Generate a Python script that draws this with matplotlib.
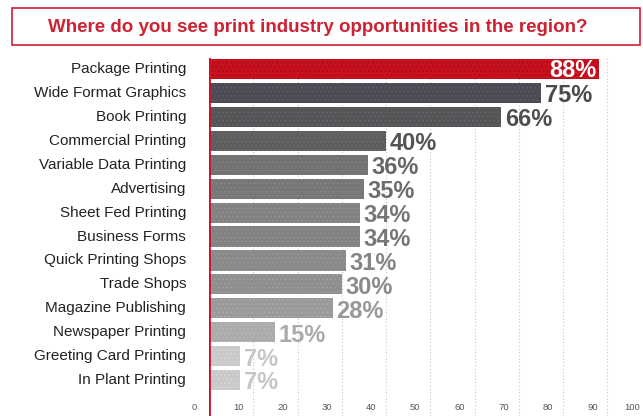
import matplotlib.pyplot as plt
from matplotlib.patches import Rectangle
from matplotlib.transforms import ScaledTranslation

plt.rcParams['font.family'] = ['Liberation Sans', 'DejaVu Sans']
plt.rcParams['hatch.linewidth'] = 0.6

categories = ['Package Printing', 'Wide Format Graphics', 'Book Printing', 'Commercial Printing',
              'Variable Data Printing', 'Advertising', 'Sheet Fed Printing', 'Business Forms',
              'Quick Printing Shops', 'Trade Shops', 'Magazine Publishing', 'Newspaper Printing',
              'Greeting Card Printing', 'In Plant Printing']
values = [88, 75, 66, 40, 36, 35, 34, 34, 31, 30, 28, 15, 7, 7]
bar_colors = ['#c8101e', '#4b4b55', '#555558', '#5e5e5e', '#727272', '#777777', '#828282',
              '#828282', '#8a8a8a', '#8f8f8f', '#9a9a9a', '#ababab', '#c9c9c9', '#c9c9c9']
dot_colors = ['#a00a16', '#5c5c68', '#66666a', '#6e6e6e', '#828282', '#878787', '#929292',
              '#929292', '#9a9a9a', '#9f9f9f', '#aaaaaa', '#bbbbbb', '#d8d8d8', '#d8d8d8']
text_colors = ['white', '#4a4a4a', '#4e4e4e', '#555555', '#666666', '#6c6c6c', '#777777',
               '#777777', '#858585', '#8a8a8a', '#989898', '#aaaaaa', '#c6c6c6', '#c6c6c6']
tick_vals = [0, 10, 20, 30, 40, 50, 60, 70, 80, 90, 100]

fig = plt.figure(figsize=(6.43, 4.16), dpi=100)
W, H = 643, 416

# title box
fig.patches.append(Rectangle((12 / W, 1 - 45 / H), 628 / W, 37 / H, transform=fig.transFigure,
                             facecolor='white', edgecolor='#d02030', lw=1.2))
fig.text(318 / W, 1 - 27 / H, 'Where do you see print industry opportunities in the region?',
         ha='center', va='center', color='#cc2233', fontsize=13.5, fontweight='bold')

ax = fig.add_axes([209 / W, 0, 425 / W, 1 - 58 / H])
ax.set_xlim(0, 96)
ax.set_ylim(14.5, -0.46)

pos = list(range(len(categories)))
bars = ax.barh(pos, values, height=0.84, color=bar_colors, edgecolor=dot_colors, lw=0,
               hatch='....', zorder=2)

for v in tick_vals[1:10]:
    ax.axvline(v, color='#c8c8b0', lw=0.8, ls=(0, (1, 2)), zorder=1)

for s in ax.spines.values():
    s.set_visible(False)
ax.axvline(0, color='#d01020', lw=2, zorder=3)
ax.set_xticks([])
ax.set_yticks([])

for i, (v, c) in enumerate(zip(values, text_colors)):
    if i == 0:
        ax.text(v - 0.5, i + 0.05, f'{v}%', ha='right', va='center', color=c,
                fontsize=17, fontweight='bold', zorder=4)
    else:
        ax.text(v + 0.8, i + 0.12, f'{v}%', ha='left', va='center', color=c,
                fontsize=17, fontweight='bold', zorder=4)

lab_off = ScaledTranslation(-23 / 100, 0, fig.dpi_scale_trans)
for i, name in enumerate(categories):
    ax.text(0, i, name, ha='right', va='center', fontsize=11, color='#222222',
            transform=ax.transData + lab_off, clip_on=False)

tick_off = ScaledTranslation(-15 / 100, 0, fig.dpi_scale_trans)
last_off = ScaledTranslation(-12 / 100, 0, fig.dpi_scale_trans)
for v in tick_vals:
    if v == 100:
        ax.text(v, 14.15, str(v), ha='right', va='center', fontsize=6.8, color='#555555',
                transform=ax.transData + last_off, clip_on=False)
    else:
        ax.text(v, 14.15, str(v), ha='center', va='center', fontsize=6.8, color='#555555',
                transform=ax.transData + tick_off, clip_on=False)

fig.savefig('out.png', dpi=100)
